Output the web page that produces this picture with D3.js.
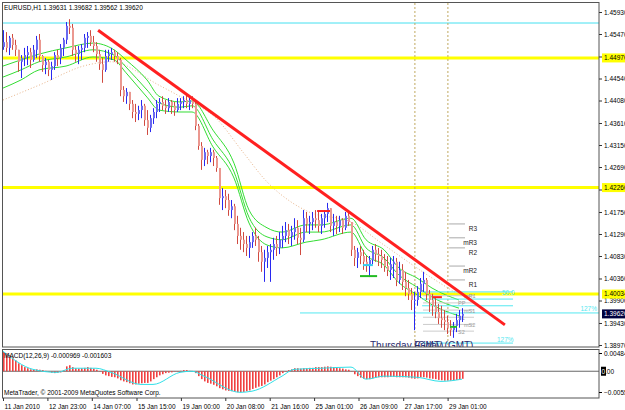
<!DOCTYPE html>
<html>
<head>
<meta charset="utf-8">
<title>EURUSD,H1</title>
<script src="https://d3js.org/d3.v7.min.js"></script>
<style>
  body { margin: 0; background: #fff; }
  svg text { font-family: "Liberation Sans", Arial, sans-serif; }
</style>
</head>
<body>
<script>
// ---- price data: one H1-ish candle per column, open = previous close
var openFirst = 1.4520;
var high = [
  1.4555,1.4551,1.4543,1.4547,1.4535,1.4514,1.4503,1.4518,1.4522,1.4518,
  1.4524,1.4543,1.4547,1.4503,1.4497,1.4493,1.4489,1.4509,1.4514,1.4526,
  1.4539,1.4572,1.4578,1.4568,1.4522,1.4522,1.4526,1.4547,1.4551,1.4555,
  1.4543,1.4530,1.4514,1.4497,1.4514,1.4514,1.4518,1.4514,1.4509,1.4497,
  1.4438,1.4434,1.4426,1.4409,1.4401,1.4397,1.4409,1.4401,1.4388,1.4378,
  1.4392,1.4409,1.4413,1.4417,1.4409,1.4413,1.4409,1.4405,1.4413,1.4413,
  1.4417,1.4422,1.4417,1.4417,1.4405,1.4359,1.4321,1.4309,1.4305,1.4309,
  1.4305,1.4292,1.4267,1.4225,1.4221,1.4213,1.4200,1.4192,1.4167,1.4142,
  1.4133,1.4125,1.4125,1.4133,1.4142,1.4125,1.4104,1.4096,1.4104,1.4108,
  1.4121,1.4125,1.4133,1.4146,1.4154,1.4150,1.4146,1.4162,1.4158,1.4142,
  1.4179,1.4175,1.4167,1.4175,1.4179,1.4175,1.4171,1.4179,1.4194,1.4183,
  1.4171,1.4167,1.4167,1.4162,1.4175,1.4179,1.4154,1.4104,1.4100,1.4104,
  1.4096,1.4083,1.4083,1.4104,1.4108,1.4100,1.4096,1.4087,1.4083,1.4079,
  1.4083,1.4079,1.4071,1.4066,1.4050,1.4033,1.4016,1.4008,1.4020,1.4037,
  1.4050,1.4037,1.4012,1.4004,1.3995,1.3983,1.3979,1.3970,1.3958,1.3949,
  1.3945,1.3962,1.3970,1.3974];
var low = [
  1.4514,1.4509,1.4503,1.4514,1.4501,1.4468,1.4455,1.4480,1.4482,1.4476,
  1.4489,1.4497,1.4489,1.4468,1.4463,1.4459,1.4451,1.4472,1.4480,1.4484,
  1.4501,1.4526,1.4547,1.4501,1.4489,1.4484,1.4493,1.4509,1.4518,1.4522,
  1.4509,1.4489,1.4472,1.4445,1.4468,1.4489,1.4493,1.4489,1.4484,1.4417,
  1.4405,1.4401,1.4388,1.4371,1.4363,1.4367,1.4371,1.4355,1.4336,1.4342,
  1.4359,1.4371,1.4384,1.4388,1.4380,1.4384,1.4380,1.4376,1.4384,1.4388,
  1.4392,1.4392,1.4388,1.4392,1.4346,1.4305,1.4263,1.4271,1.4275,1.4279,
  1.4271,1.4259,1.4190,1.4179,1.4183,1.4167,1.4162,1.4137,1.4108,1.4096,
  1.4091,1.4083,1.4079,1.4100,1.4104,1.4071,1.4050,1.4029,1.4058,1.4029,
  1.4075,1.4083,1.4087,1.4100,1.4112,1.4108,1.4104,1.4117,1.4108,1.4085,
  1.4112,1.4133,1.4129,1.4137,1.4142,1.4133,1.4129,1.4142,1.4154,1.4133,
  1.4125,1.4129,1.4133,1.4129,1.4137,1.4146,1.4083,1.4062,1.4058,1.4066,
  1.4054,1.4050,1.4039,1.4066,1.4071,1.4062,1.4058,1.4050,1.4041,1.4033,
  1.4037,1.4020,1.4025,1.4012,1.3999,1.3991,1.3970,1.3928,1.3979,1.3995,
  1.4008,1.3991,1.3966,1.3958,1.3953,1.3941,1.3933,1.3928,1.3920,1.3916,
  1.3912,1.3924,1.3933,1.3945];
var close = [
  1.4530,1.4518,1.4539,1.4524,1.4514,1.4489,1.4497,1.4503,1.4509,1.4493,
  1.4514,1.4535,1.4501,1.4482,1.4489,1.4472,1.4480,1.4503,1.4497,1.4518,
  1.4535,1.4564,1.4560,1.4514,1.4505,1.4514,1.4518,1.4539,1.4543,1.4530,
  1.4522,1.4505,1.4484,1.4472,1.4501,1.4505,1.4509,1.4501,1.4493,1.4430,
  1.4417,1.4426,1.4401,1.4384,1.4380,1.4388,1.4397,1.4367,1.4351,1.4371,
  1.4384,1.4401,1.4405,1.4397,1.4392,1.4405,1.4397,1.4388,1.4401,1.4405,
  1.4409,1.4401,1.4409,1.4401,1.4355,1.4313,1.4284,1.4300,1.4292,1.4300,
  1.4288,1.4267,1.4204,1.4208,1.4200,1.4179,1.4187,1.4150,1.4125,1.4117,
  1.4108,1.4100,1.4112,1.4125,1.4117,1.4091,1.4071,1.4079,1.4091,1.4096,
  1.4108,1.4100,1.4117,1.4125,1.4137,1.4125,1.4133,1.4142,1.4121,1.4117,
  1.4162,1.4150,1.4154,1.4162,1.4158,1.4146,1.4162,1.4171,1.4183,1.4146,
  1.4154,1.4146,1.4158,1.4142,1.4167,1.4154,1.4096,1.4079,1.4091,1.4083,
  1.4071,1.4062,1.4075,1.4096,1.4087,1.4083,1.4075,1.4062,1.4054,1.4066,
  1.4071,1.4033,1.4054,1.4029,1.4016,1.4004,1.3991,1.3991,1.4008,1.4025,
  1.4033,1.4004,1.3991,1.3979,1.3966,1.3953,1.3949,1.3945,1.3933,1.3928,
  1.3937,1.3949,1.3958,1.3962];

// moving averages (bar index -> price)
var maIdx   = [0,6,12,21,30,37,41,48,52,59,63,70,77,82,88,93,101,106,116,121,127,132,138,143,152];
var maUpper = [1.4480,1.4493,1.4505,1.4518,1.4528,1.4514,1.4493,1.4451,1.4417,1.4405,1.4407,1.4346,1.4277,1.4179,1.4142,1.4133,1.4148,1.4148,1.4162,1.4117,1.4096,1.4058,1.4037,1.4016,1.3991];
var maMid   = [1.4457,1.4472,1.4489,1.4499,1.4514,1.4503,1.4478,1.4430,1.4403,1.4394,1.4397,1.4326,1.4259,1.4164,1.4123,1.4117,1.4133,1.4133,1.4148,1.4100,1.4079,1.4043,1.4018,1.3997,1.3974];
var maLower = [1.4434,1.4451,1.4472,1.4480,1.4499,1.4493,1.4466,1.4415,1.4388,1.4384,1.4384,1.4311,1.4246,1.4152,1.4106,1.4100,1.4112,1.4117,1.4133,1.4085,1.4064,1.4027,1.4002,1.3981,1.3958];
var slowIdx = [0,12,28,36,52,60,71,80,88,96,102,116,127,143,152];
var slowMa  = [1.4409,1.4440,1.4482,1.4489,1.4440,1.4413,1.4371,1.4300,1.4238,1.4196,1.4175,1.4154,1.4106,1.4037,1.4002];

// MACD(12,26,9)
var macdHist = [
  0.0051,0.0048,0.0043,0.0037,0.0029,0.0021,0.0016,0.0011,0.0008,0.0005,
  0.0004,0.0005,0.0004,0.0003,0.0001,-0.0001,-0.0004,-0.0005,-0.0004,-0.0003,
  0.0003,0.0013,0.0016,0.0011,0.0008,0.0007,0.0008,0.0009,0.0011,0.0009,
  0.0007,0.0004,-0.0001,-0.0007,-0.0011,-0.0013,-0.0015,-0.0016,-0.0019,-0.0024,
  -0.0027,-0.0029,-0.0032,-0.0035,-0.0035,-0.0033,-0.0032,-0.0031,-0.0031,-0.0027,
  -0.0021,-0.0016,-0.0011,-0.0008,-0.0005,-0.0004,-0.0003,-0.0001,-0.0001,0.0001,
  0.0003,0.0003,0.0001,0.0000,-0.0005,-0.0013,-0.0021,-0.0027,-0.0031,-0.0033,
  -0.0036,-0.0040,-0.0045,-0.0048,-0.0051,-0.0052,-0.0053,-0.0055,-0.0056,-0.0056,
  -0.0055,-0.0053,-0.0051,-0.0047,-0.0044,-0.0041,-0.0039,-0.0035,-0.0029,-0.0025,
  -0.0021,-0.0016,-0.0011,-0.0005,-0.0001,0.0003,0.0005,0.0008,0.0008,0.0007,
  0.0008,0.0008,0.0009,0.0009,0.0011,0.0011,0.0011,0.0012,0.0013,0.0012,
  0.0011,0.0009,0.0008,0.0007,0.0005,0.0004,-0.0001,-0.0008,-0.0013,-0.0017,
  -0.0020,-0.0021,-0.0021,-0.0019,-0.0017,-0.0016,-0.0016,-0.0016,-0.0016,-0.0015,
  -0.0015,-0.0016,-0.0016,-0.0016,-0.0016,-0.0017,-0.0019,-0.0020,-0.0019,-0.0016,
  -0.0016,-0.0017,-0.0019,-0.0020,-0.0021,-0.0023,-0.0024,-0.0025,-0.0025,-0.0025,
  -0.0024,-0.0023,-0.0021,-0.0020];
var sigIdx = [0,10,18,23,31,36,46,50,59,63,67,79,83,93,97,106,116,121,127,138,146,153];
var sigVal = [0.0053,0.0005,-0.0003,0.0008,0.0008,-0.0003,-0.0035,-0.0035,-0.0003,0.0000,-0.0013,-0.0056,-0.0053,-0.0013,0.0005,0.0008,0.0011,-0.0021,-0.0013,-0.0016,-0.0027,-0.0021];

// axis ticks
var priceTicks = [1.45930,1.45470,1.45000,1.44540,1.44080,1.43610,1.43150,1.42690,1.42220,1.41750,1.41290,1.40830,1.40360,1.39900,1.39430,1.38970];
var timeIdx = [0,14.8,29.6,44.5,59.3,74.1,88.9,103.7,118.5,133.4,148.2];
var timeLabels = ["11 Jan 2010","12 Jan 23:00","14 Jan 07:00","15 Jan 15:00","19 Jan 00:00","20 Jan 08:00","21 Jan 16:00","25 Jan 01:00","26 Jan 09:00","27 Jan 17:00","29 Jan 01:00"];

// drawn objects
var yellowLevels = [1.4497, 1.4226, 1.40034];
var cyanTop = 1.4570;
var trendIdx = [31.7, 167.3], trendVal = [1.4555, 1.3939];
var vlineIdx = [137.3, 148.3];
var pivotNames = ["R3","mR3","R2","mR2","R1"];
var pivotVals = [1.4150, 1.4121, 1.4100, 1.4062, 1.4033];
var lowPivotNames = ["mR1","PP","mS1","S1","mS2","S2"];
var lowPivotVals = [1.4000, 1.3985, 1.3970, 1.3955, 1.3940, 1.3926];
var fibVals = [1.4008, 1.3993, 1.3979, 1.3964, 1.3901];
var lastPrice = 1.39620;

var W = 625, H = 410;
var svg = d3.select("body").append("svg")
    .attr("width", W).attr("height", H).style("display", "block");

var x = d3.scaleLinear().domain([0, 198]).range([3, 597]);
var y = d3.scaleLinear().domain([1.38970, 1.45930]).range([345, 12]);
var ym = d3.scaleLinear().domain([-0.005516, 0.004847]).range([392, 353]);

var defs = svg.append("defs");
defs.append("clipPath").attr("id", "cp").append("rect")
    .attr("x", 3).attr("y", 3).attr("width", 596).attr("height", 344);
defs.append("clipPath").attr("id", "cm").append("rect")
    .attr("x", 3).attr("y", 350).attr("width", 596).attr("height", 48);

var gp = svg.append("g").attr("clip-path", "url(#cp)");
var gm = svg.append("g").attr("clip-path", "url(#cm)");

// horizontal levels
gp.append("line").attr("x1", 3).attr("x2", 599)
    .attr("y1", y(cyanTop)).attr("y2", y(cyanTop))
    .attr("stroke", "#44e0f0").attr("stroke-width", 1);
gp.selectAll(".yl").data(yellowLevels).enter().append("line")
    .attr("x1", 3).attr("x2", 599)
    .attr("y1", function(d){ return y(d); }).attr("y2", function(d){ return y(d); })
    .attr("stroke", "#ffff00").attr("stroke-width", 3);

// vertical session lines
gp.selectAll(".vl").data(vlineIdx).enter().append("line")
    .attr("x1", function(d){ return x(d); }).attr("x2", function(d){ return x(d); })
    .attr("y1", 3).attr("y2", 347)
    .attr("stroke", "#c0a860").attr("stroke-dasharray", "2,2");

// slow ma (dotted)
var line = d3.line().curve(d3.curveMonotoneX);
gp.append("path")
    .attr("d", line(slowIdx.map(function(d, k){ return [x(d), y(slowMa[k])]; })))
    .attr("fill", "none").attr("stroke", "#e8b48a").attr("stroke-dasharray", "1,2");

// ma envelope
[maUpper, maMid, maLower].forEach(function(arr){
  gp.append("path")
    .attr("d", line(maIdx.map(function(d, k){ return [x(d), y(arr[k])]; })))
    .attr("fill", "none").attr("stroke", "#33dd33").attr("stroke-width", 1);
});

// fib / pivot lines lower right
gp.selectAll(".fib").data(fibVals).enter().append("line")
    .attr("x1", function(d, k){ return k == 3 ? x(99) : x(139.7); })
    .attr("x2", function(d, k){ return k == 3 ? 599 : x(170); })
    .attr("y1", function(d){ return y(d); }).attr("y2", function(d){ return y(d); })
    .attr("stroke", "#55e8f0").attr("stroke-width", 1);
gp.append("text").attr("x", 502).attr("y", y(fibVals[0]) + 3)
    .attr("font-size", 6.5).attr("fill", "#55e8f0").text("50.0");
gp.append("text").attr("x", 497).attr("y", y(fibVals[4]) - 1)
    .attr("font-size", 6.5).attr("fill", "#55e8f0").text("127%");
gp.append("text").attr("x", 597).attr("y", y(fibVals[3]) - 2).attr("text-anchor", "end")
    .attr("font-size", 6.5).attr("fill", "#55e8f0").text("127%");

gp.selectAll(".pv").data(pivotVals).enter().append("line")
    .attr("x1", x(148.7)).attr("x2", x(154))
    .attr("y1", function(d){ return y(d); }).attr("y2", function(d){ return y(d); })
    .attr("stroke", "#aaaaaa");
gp.selectAll(".pvt").data(pivotVals).enter().append("text")
    .attr("x", 477).attr("y", function(d){ return y(d) + 7; })
    .attr("text-anchor", "end").attr("font-size", 6.5).attr("fill", "#222")
    .text(function(d, k){ return pivotNames[k]; });
gp.selectAll(".lpv").data(lowPivotVals).enter().append("line")
    .attr("x1", x(140)).attr("x2", x(157))
    .attr("y1", function(d){ return y(d); }).attr("y2", function(d){ return y(d); })
    .attr("stroke", "#cccccc");
gp.selectAll(".lpvt").data(lowPivotVals).enter().append("text")
    .attr("x", function(d, k){ return k % 2 ? 458 : 464; })
    .attr("y", function(d){ return y(d) + 2.5; })
    .attr("font-size", 5.5).attr("fill", "#999")
    .text(function(d, k){ return lowPivotNames[k]; });

// candles
var candles = close.map(function(c, i){
  return { i: i, o: i ? close[i - 1] : openFirst, h: high[i], l: low[i], c: c };
});
var cg = gp.append("g");
cg.selectAll(".wick").data(candles).enter().append("line")
    .attr("x1", function(d){ return x(d.i) + 0.5; }).attr("x2", function(d){ return x(d.i) + 0.5; })
    .attr("y1", function(d){ return y(Math.max(d.h, d.o, d.c)); })
    .attr("y2", function(d){ return y(Math.min(d.l, d.o, d.c)); })
    .attr("stroke", function(d){ return d.c >= d.o ? "#2828f0" : "#d04a40"; });
cg.selectAll(".body").data(candles).enter().append("rect")
    .attr("x", function(d){ return x(d.i); })
    .attr("width", 2)
    .attr("y", function(d){ return y(Math.max(d.o, d.c)); })
    .attr("height", function(d){ return Math.max(1, y(Math.min(d.o, d.c)) - y(Math.max(d.o, d.c))); })
    .attr("fill", function(d){ return d.c >= d.o ? "#6a6af0" : "#eb9890"; });

// trend line
gp.append("line")
    .attr("x1", x(trendIdx[0])).attr("y1", y(trendVal[0]))
    .attr("x2", x(trendIdx[1])).attr("y2", y(trendVal[1]))
    .attr("stroke", "#ff2020").attr("stroke-width", 3);

// small markers
var marks = [[104.7, 109, 1.4177, "#ff2020"], [120, 123.3, 1.4064, "#33ccee"], [119, 124.7, 1.4041, "#22bb22"],
             [143.3, 146.3, 1.3997, "#ff2020"], [149, 151.3, 1.3935, "#22bb22"]];
gp.selectAll(".mk").data(marks).enter().append("line")
    .attr("x1", function(d){ return x(d[0]); }).attr("x2", function(d){ return x(d[1]); })
    .attr("y1", function(d){ return y(d[2]); }).attr("y2", function(d){ return y(d[2]); })
    .attr("stroke", function(d){ return d[3]; }).attr("stroke-width", 2);

// session text
gp.append("text").attr("x", 370).attr("y", 348.5).attr("font-size", 10)
    .attr("fill", "#2b2b6e").text("Thursday (GMT)");
gp.append("text").attr("x", 414).attr("y", 348.5).attr("font-size", 10)
    .attr("fill", "#2b2b6e").text("Friday (GMT)");

gp.append("text").attr("x", 4).attr("y", 10).attr("font-size", 6.5).attr("fill", "#000")
    .text("EURUSD,H1  1.39631 1.39682 1.39562 1.39620");

// MACD
gm.append("line").attr("x1", 3).attr("x2", 599).attr("y1", ym(0)).attr("y2", ym(0))
    .attr("stroke", "#666");
gm.selectAll(".hb").data(macdHist).enter().append("rect")
    .attr("x", function(d, i){ return x(i); }).attr("width", 1.6)
    .attr("y", function(d){ return Math.min(ym(d), ym(0)); })
    .attr("height", function(d){ return Math.abs(ym(d) - ym(0)); })
    .attr("fill", "#f04040");
gm.append("path")
    .attr("d", line(sigIdx.map(function(d, k){ return [x(d), ym(sigVal[k])]; })))
    .attr("fill", "none").attr("stroke", "#30e0e8").attr("stroke-width", 1);
gm.append("text").attr("x", 4).attr("y", 358).attr("font-size", 6.5).attr("fill", "#000")
    .text("MACD(12,26,9) -0.000969 -0.001603");
gm.append("text").attr("x", 4).attr("y", 394.5).attr("font-size", 6.5).attr("fill", "#000")
    .text("MetaTrader, \u00a9 2001-2009 MetaQuotes Software Corp.");

// frames
svg.append("rect").attr("x", 2.5).attr("y", 2.5).attr("width", 596.5).attr("height", 344.5)
    .attr("fill", "none").attr("stroke", "#555");
svg.append("rect").attr("x", 2.5).attr("y", 349.5).attr("width", 596.5).attr("height", 48.5)
    .attr("fill", "none").attr("stroke", "#555");

// right price axis
var ax = svg.append("g").attr("transform", "translate(599,0)")
    .call(d3.axisRight(y).tickValues(priceTicks).tickSize(3).tickFormat(d3.format(".5f")));
ax.select(".domain").remove();
ax.selectAll("text").attr("font-size", 6.5).attr("x", 5).attr("fill", "#000");
ax.selectAll("line").attr("stroke", "#333");

function boxLabel(yy, txt, bg, fg) {
  var g = svg.append("g");
  g.append("rect").attr("x", 602).attr("y", yy - 4.5).attr("width", 24).attr("height", 9).attr("fill", bg);
  g.append("text").attr("x", 604).attr("y", yy + 2.3).attr("font-size", 6.5).attr("fill", fg).text(txt);
}
yellowLevels.forEach(function(v){ boxLabel(y(v), d3.format(".5f")(v), "#ffff00", "#000"); });
boxLabel(y(lastPrice), d3.format(".5f")(lastPrice), "#000040", "#fff");

// macd axis
var mAx = svg.append("g").attr("transform", "translate(599,0)")
    .call(d3.axisRight(ym).tickValues([0.004847, -0.005516]).tickSize(3).tickFormat(d3.format(".6f")));
mAx.select(".domain").remove();
mAx.selectAll("text").attr("font-size", 6.5).attr("x", 5).attr("fill", "#000");
svg.append("rect").attr("x", 601).attr("y", ym(0) - 4.5).attr("width", 5).attr("height", 9).attr("fill", "#000");
svg.append("text").attr("x", 601.5).attr("y", ym(0) + 2.3).attr("font-size", 6.5).attr("fill", "#fff").text("0");
svg.append("text").attr("x", 605).attr("y", ym(0) + 2.3).attr("font-size", 6.5).attr("fill", "#000").text(".00");

// bottom time axis
var tx = svg.append("g").attr("transform", "translate(0,398)")
    .call(d3.axisBottom(x).tickValues(timeIdx).tickSize(3)
      .tickFormat(function(d, k){ return timeLabels[k]; }));
tx.select(".domain").remove();
tx.selectAll("text").attr("font-size", 6.5).attr("text-anchor", "start")
    .attr("x", 1).attr("y", 6).attr("fill", "#000");
tx.selectAll("line").attr("stroke", "#333");
</script>
</body>
</html>
